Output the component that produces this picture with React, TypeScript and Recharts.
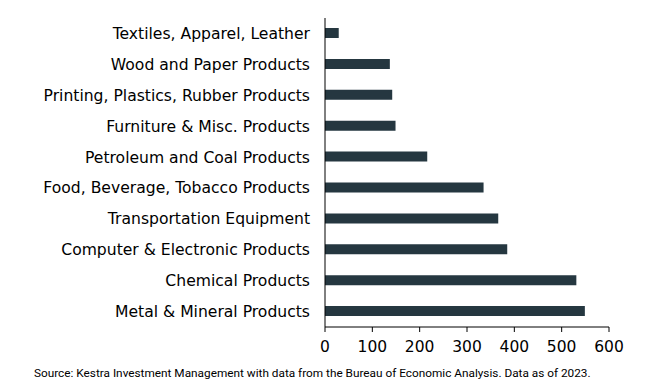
import { BarChart, Bar, XAxis, YAxis } from "recharts";

const industries = [
  "Textiles, Apparel, Leather",
  "Wood and Paper Products",
  "Printing, Plastics, Rubber Products",
  "Furniture & Misc. Products",
  "Petroleum and Coal Products",
  "Food, Beverage, Tobacco Products",
  "Transportation Equipment",
  "Computer & Electronic Products",
  "Chemical Products",
  "Metal & Mineral Products",
];

const values = [29, 137, 142, 149, 216, 335, 366, 385, 531, 549];

const xTicks = [0, 100, 200, 300, 400, 500, 600];

const sourceNote =
  "Source: Kestra Investment Management with data from the Bureau of Economic Analysis. Data as of 2023.";

const data = industries.map((name, i) => ({ name, value: values[i] }));

const font = "'DejaVu Sans', Verdana, sans-serif";

export default function App() {
  return (
    <div
      style={{
        position: "relative",
        width: 650,
        height: 389,
        margin: -8,
        background: "#fff",
        fontFamily: font,
      }}
    >
      <BarChart
        layout="vertical"
        width={650}
        height={360}
        data={data}
        margin={{ top: 18, right: 41, bottom: 3, left: 0 }}
      >
        <XAxis
          type="number"
          domain={[0, 600]}
          ticks={xTicks}
          height={30}
          axisLine={{ stroke: "#000" }}
          tickLine={{ stroke: "#000" }}
          tickSize={5}
          tickMargin={9}
          tick={{ fill: "#000", fontSize: 15.5, fontFamily: font }}
        />
        <YAxis
          type="category"
          dataKey="name"
          width={325}
          axisLine={{ stroke: "#000" }}
          tickLine={false}
          tickMargin={9}
          tick={{ fill: "#000", fontSize: 15.6, fontFamily: font }}
          interval={0}
        />
        <Bar dataKey="value" fill="#253740" barSize={10} isAnimationActive={false} />
      </BarChart>
      <div
        style={{
          position: "absolute",
          left: 34,
          top: 366,
          fontSize: 11.8,
          fontFamily: "'Liberation Sans Narrow', 'Roboto', sans-serif",
          color: "#000",
          whiteSpace: "nowrap",
        }}
      >
        {sourceNote}
      </div>
    </div>
  );
}
